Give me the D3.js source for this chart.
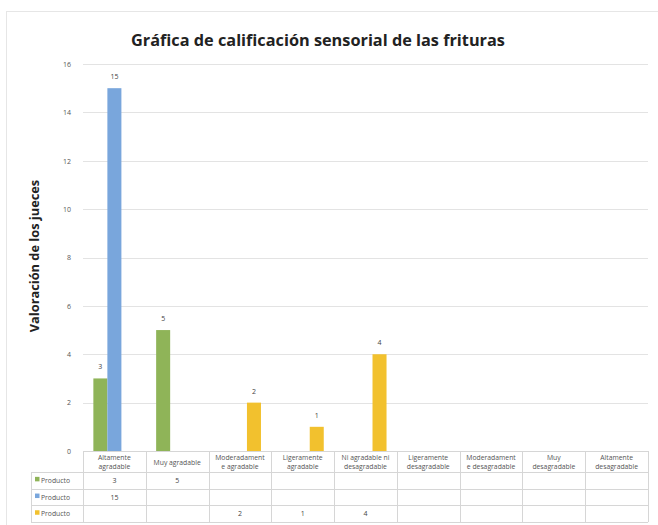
<!DOCTYPE html>
<html>
<head>
<meta charset="utf-8">
<script src="https://cdn.jsdelivr.net/npm/d3@7"></script>
<style>
  body { margin: 0; background: #fff; }
  text { font-family: "Open Sans", "Liberation Sans", sans-serif; }
</style>
</head>
<body>
<svg id="chart" width="658" height="525"></svg>
<script>
// categories of the sensory scale
var categories = [
  ["Altamente", "agradable"],
  ["Muy agradable"],
  ["Moderadament", "e agradable"],
  ["Ligeramente", "agradable"],
  ["Ni agradable ni", "desagradable"],
  ["Ligeramente", "desagradable"],
  ["Moderadament", "e desagradable"],
  ["Muy", "desagradable"],
  ["Altamente", "desagradable"]
]
var seriesNames = ["Producto", "Producto", "Producto"]
var seriesColors = ["#8fb458", "#79a6dc", "#f2c12e"]
// null = empty cell
var serie1 = [3, 5, null, null, null, null, null, null, null]
var serie2 = [15, null, null, null, null, null, null, null, null]
var serie3 = [null, null, 2, 1, 4, null, null, null, null]
var yTicks = [0, 2, 4, 6, 8, 10, 12, 14, 16]

var series = [serie1, serie2, serie3]

var svg = d3.select("#chart")

var margin = {top: 64, left: 83, right: 10, bottom: 74}
var plotW = 648 - margin.left
var plotH = 451 - margin.top

// frame
svg.append("rect")
  .attr("x", 6.5).attr("y", 11.5)
  .attr("width", 660).attr("height", 520)
  .attr("fill", "#fff")
  .attr("stroke", "#e6e6e6")

svg.append("text")
  .attr("x", 318).attr("y", 46)
  .attr("text-anchor", "middle")
  .attr("font-size", 16.3)
  .attr("font-weight", "bold")
  .attr("fill", "#222")
  .text("Gráfica de calificación sensorial de las frituras")

var x0 = d3.scaleBand()
  .domain(d3.range(categories.length))
  .range([margin.left, margin.left + plotW])

var x1 = d3.scaleBand()
  .domain(d3.range(series.length))
  .range([x0.bandwidth() * 0.165, x0.bandwidth() * 0.835])

var y = d3.scaleLinear()
  .domain([0, 16])
  .range([margin.top + plotH, margin.top])

// gridlines
svg.append("g")
  .selectAll("line")
  .data(yTicks)
  .enter().append("line")
  .attr("x1", margin.left).attr("x2", margin.left + plotW)
  .attr("y1", function(d) { return Math.round(y(d)) + 0.5 })
  .attr("y2", function(d) { return Math.round(y(d)) + 0.5 })
  .attr("stroke", "#e3e3e3")

// y axis labels
var yAxis = d3.axisLeft(y).tickValues(yTicks).tickSize(0).tickPadding(12)
var gy = svg.append("g")
  .attr("transform", "translate(" + margin.left + ",0)")
  .call(yAxis)
gy.select(".domain").remove()
gy.selectAll("text").attr("font-size", 7).attr("fill", "#555")

svg.append("text")
  .attr("transform", "translate(39," + 256 + ") rotate(-90)")
  .attr("text-anchor", "middle")
  .attr("font-size", 12.8)
  .attr("font-weight", "bold")
  .attr("fill", "#222")
  .text("Valoración de los jueces")

// bars
series.forEach(function(s, si) {
  var data = s.map(function(v, i) { return {i: i, v: v} }).filter(function(d) { return d.v !== null })
  var g = svg.append("g")
  g.selectAll("rect")
    .data(data)
    .enter().append("rect")
    .attr("x", function(d) { return x0(d.i) + x1(si) })
    .attr("width", x1.bandwidth())
    .attr("y", function(d) { return y(d.v) })
    .attr("height", function(d) { return y(0) - y(d.v) })
    .attr("fill", seriesColors[si])
  g.selectAll("text")
    .data(data)
    .enter().append("text")
    .attr("x", function(d) { return x0(d.i) + x1(si) + x1.bandwidth() / 2 })
    .attr("y", function(d) { return y(d.v) - 9 })
    .attr("text-anchor", "middle")
    .attr("font-size", 7)
    .attr("fill", "#444")
    .text(function(d) { return d.v })
})

// data table
var tableTop = 451
var headerH = 21
var rowH = 16.7
var tableLeft = 31
var tableRight = margin.left + plotW
var tableBottom = tableTop + headerH + rowH * series.length
var lineColor = "#d6d6d6"
var tg = svg.append("g")

// horizontal lines
var hLines = [tableTop, tableTop + headerH]
series.forEach(function(s, si) { hLines.push(tableTop + headerH + rowH * (si + 1)) })
hLines.forEach(function(hy, k) {
  tg.append("line")
    .attr("x1", k == 0 ? margin.left : tableLeft).attr("x2", tableRight)
    .attr("y1", Math.round(hy) + 0.5).attr("y2", Math.round(hy) + 0.5)
    .attr("stroke", lineColor)
})
// vertical lines
tg.append("line")
  .attr("x1", tableLeft + 0.5).attr("x2", tableLeft + 0.5)
  .attr("y1", tableTop + headerH).attr("y2", tableBottom)
  .attr("stroke", lineColor)
d3.range(categories.length + 1).forEach(function(i) {
  var vx = i < categories.length ? x0(i) : tableRight
  tg.append("line")
    .attr("x1", Math.round(vx) + 0.5).attr("x2", Math.round(vx) + 0.5)
    .attr("y1", tableTop).attr("y2", tableBottom)
    .attr("stroke", lineColor)
})

// category labels
categories.forEach(function(c, i) {
  var t = tg.append("text")
    .attr("x", x0(i) + x0.bandwidth() / 2)
    .attr("y", c.length == 1 ? tableTop + 13.5 : tableTop + 9)
    .attr("text-anchor", "middle")
    .attr("font-size", 6.8)
    .attr("fill", "#555")
  c.forEach(function(line, k) {
    t.append("tspan")
      .attr("x", x0(i) + x0.bandwidth() / 2)
      .attr("dy", k == 0 ? 0 : 9)
      .text(line)
  })
})

// rows
series.forEach(function(s, si) {
  var ry = tableTop + headerH + rowH * si + rowH / 2 + 2.5
  tg.append("rect")
    .attr("x", 35).attr("y", ry - 6)
    .attr("width", 4.5).attr("height", 4.5)
    .attr("fill", seriesColors[si])
  tg.append("text")
    .attr("x", 41).attr("y", ry)
    .attr("font-size", 6.8)
    .attr("fill", "#555")
    .text(seriesNames[si])
  s.forEach(function(v, i) {
    if (v === null) return
    tg.append("text")
      .attr("x", x0(i) + x0.bandwidth() / 2)
      .attr("y", ry)
      .attr("text-anchor", "middle")
      .attr("font-size", 7)
      .attr("fill", "#444")
      .text(v)
  })
})
</script>
</body>
</html>
